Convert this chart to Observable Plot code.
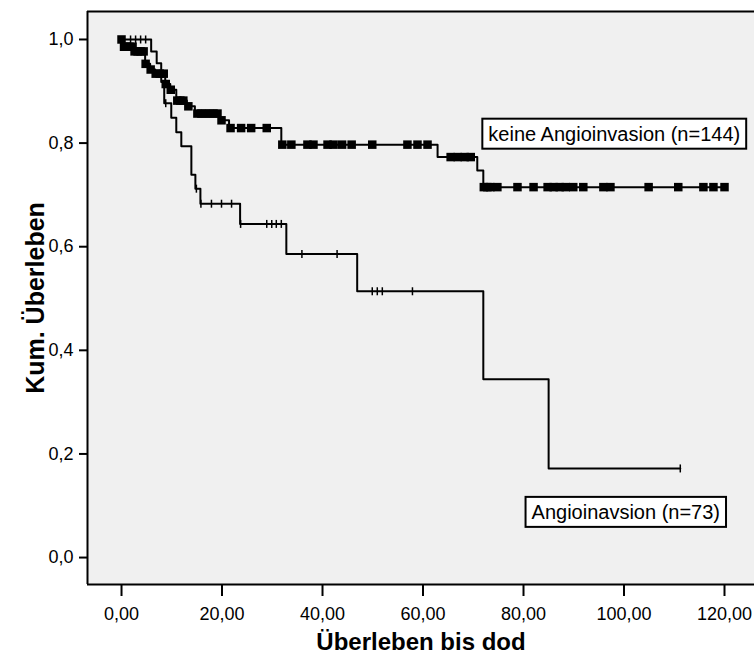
<!DOCTYPE html>
<html>
<head>
<meta charset="utf-8">
<script src="https://cdn.jsdelivr.net/npm/d3@7"></script>
<script src="https://cdn.jsdelivr.net/npm/@observablehq/plot@0.6"></script>
<style>
  html, body { margin: 0; padding: 0; background: #ffffff; overflow: hidden; }
  #chart { width: 754px; height: 659px; }
</style>
</head>
<body>
<div id="chart"></div>
<script>
// ---- Data ----
// Group "keine Angioinvasion" (n=144): step points of the Kaplan-Meier curve
const keineTime = [0, 0.3, 2.4, 4.7, 5.7, 6.7, 8.7, 9.7, 10.9, 13.0, 14.6, 19.6, 21.4, 31.8, 62.9, 70.8, 72.0, 120.0];
const keineSurv = [1.0, 0.986, 0.977, 0.953, 0.942, 0.934, 0.914, 0.903, 0.882, 0.871, 0.857, 0.844, 0.829, 0.797, 0.773, 0.747, 0.715, 0.715];
// censored observations (times)
const keineCensored = [0, 0.5, 1.0, 1.6, 2.2, 2.6, 3.2, 3.8, 4.4, 4.8, 5.8, 6.8, 7.6, 8.4, 8.8, 9.8, 11.1, 11.7, 12.3, 13.3,
  15.1, 15.9, 16.7, 17.5, 18.3, 19.1, 19.9, 21.7, 23.8, 25.8, 28.9, 32.0, 33.8, 37.0, 38.2, 41.0, 42.2, 43.9, 45.8, 49.9,
  56.9, 58.9, 60.9, 65.5, 66.9, 68.3, 69.5, 72.1, 72.8, 73.4, 74.8, 78.8, 82.0, 84.8, 86.0, 87.2, 88.4, 89.9, 91.9, 95.9,
  97.3, 104.9, 110.8, 115.8, 117.8, 120.0];

// Group "Angioinavsion" (n=73)
const angioTime = [0, 5.9, 7.0, 7.9, 8.5, 9.9, 10.9, 11.9, 13.9, 14.7, 15.7, 23.6, 32.8, 46.9, 72.0, 85.0, 111.2];
const angioSurv = [1.0, 0.977, 0.954, 0.918, 0.877, 0.849, 0.821, 0.794, 0.739, 0.712, 0.683, 0.644, 0.586, 0.514, 0.344, 0.172, 0.172];
const angioCensored = [1.8, 2.8, 3.8, 4.8, 8.8, 14.9, 15.8, 17.9, 19.9, 21.9, 23.7, 28.9, 29.9, 30.8, 31.8, 35.9, 42.9,
  49.9, 50.9, 51.9, 57.9, 111.2];

// Annotation labels
const labelTexts = ["keine Angioinvasion (n=144)", "Angioinavsion (n=73)"];
const labelTime = [73.0, 81.6];
const labelSurv = [0.817, 0.087];

// Axis ticks
const xTicks = [0, 20, 40, 60, 80, 100, 120];
const yTicks = [0, 0.2, 0.4, 0.6, 0.8, 1.0];
const xTitle = "Überleben bis dod";
const yTitle = "Kum. Überleben";

// ---- Build tables ----
const steps = (ts, ss) => ts.map((t, i) => ({t, s: ss[i]}));
const survAt = (ts, ss, t) => { let v = ss[0]; for (let i = 0; i < ts.length; i++) if (ts[i] <= t) v = ss[i]; return v; };
const keineSteps = steps(keineTime, keineSurv);
const angioSteps = steps(angioTime, angioSurv);
const keineCens = keineCensored.map(t => ({t, s: survAt(keineTime, keineSurv, t)}));
const angioCens = angioCensored.map(t => ({t, s: survAt(angioTime, angioSurv, t)}));
const labels = labelTexts.map((text, i) => ({text, t: labelTime[i], s: labelSurv[i]}));

const xDomain = [-6.77, 125.97];
const yDomain = [-0.052, 1.054];

const vtick = { draw(ctx, size) { const r = Math.sqrt(size / Math.PI); ctx.moveTo(0, -r); ctx.lineTo(0, r); } };

const FONT = "'Liberation Sans', Arial, Helvetica, sans-serif";

const chart = Plot.plot({
  width: 754,
  height: 659,
  marginLeft: 87,
  marginRight: 0,
  marginTop: 11,
  marginBottom: 75,
  style: { fontFamily: FONT, fontSize: "18px", color: "black", background: "white", overflow: "visible" },
  x: { domain: xDomain, label: null },
  y: { domain: yDomain, label: null },
  marks: [
    Plot.frame({ fill: "#f0f0f0", stroke: "none" }),
    Plot.ruleX([xDomain[0]], { stroke: "black", strokeWidth: 2 }),
    Plot.ruleY([yDomain[0]], { stroke: "black", strokeWidth: 2 }),
    Plot.ruleY([yDomain[1]], { stroke: "black", strokeWidth: 2 }),
    Plot.axisX({ ticks: xTicks, tickFormat: d => d.toFixed(2).replace(".", ","), tickSize: 12, tickPadding: 11, strokeWidth: 2, label: null, fontSize: 18 }),
    Plot.axisY({ ticks: yTicks, tickFormat: d => d.toFixed(1).replace(".", ","), tickSize: 8, tickPadding: 6, strokeWidth: 2, label: null, fontSize: 18 }),
    Plot.line(angioSteps, { x: "t", y: "s", curve: "step-after", stroke: "black", strokeWidth: 2 }),
    Plot.dot(angioCens, { x: "t", y: "s", symbol: vtick, r: 4, stroke: "black", strokeWidth: 1.5, fill: "none" }),
    Plot.line(keineSteps, { x: "t", y: "s", curve: "step-after", stroke: "black", strokeWidth: 2 }),
    Plot.dot(keineCens, { x: "t", y: "s", symbol: "square", r: 4.8, fill: "black", stroke: "none" }),
    Plot.text(labels, { x: "t", y: "s", text: "text", textAnchor: "start", lineAnchor: "middle", fontSize: 20, fill: "black", className: "kmlabel" }),
    Plot.text([xTitle], { frameAnchor: "bottom", dy: 58, lineAnchor: "middle", textAnchor: "middle", fontSize: 24, fontWeight: "bold", fill: "black" }),
    Plot.text([yTitle], { frameAnchor: "left", dx: -52, rotate: -90, lineAnchor: "middle", textAnchor: "middle", fontSize: 25, fontWeight: "bold", fill: "black" })
  ]
});

document.getElementById("chart").appendChild(chart);

// boxes around the annotation labels
chart.querySelectorAll("g.kmlabel text").forEach(t => {
  const b = t.getBBox();
  const padX = 6, padY = 4;
  const rect = document.createElementNS("http://www.w3.org/2000/svg", "rect");
  rect.setAttribute("x", b.x - padX);
  rect.setAttribute("y", b.y - padY);
  rect.setAttribute("width", b.width + 2 * padX);
  rect.setAttribute("height", b.height + 2 * padY);
  rect.setAttribute("fill", "white");
  rect.setAttribute("stroke", "black");
  rect.setAttribute("stroke-width", "2");
  const tr = t.getAttribute("transform");
  if (tr) rect.setAttribute("transform", tr);
  t.parentNode.insertBefore(rect, t);
});
</script>
</body>
</html>
